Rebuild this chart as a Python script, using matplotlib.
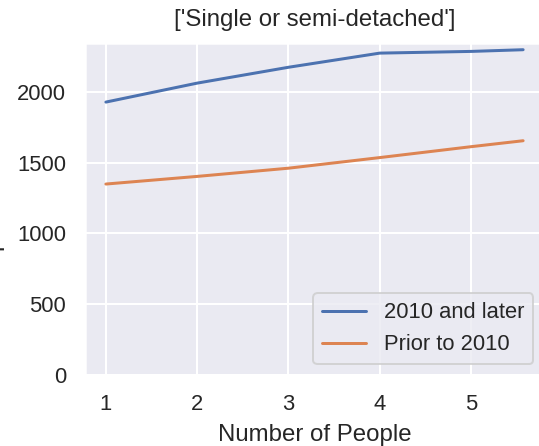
import matplotlib
matplotlib.use("Agg")
import matplotlib.pyplot as plt
import seaborn as sns

sns.set_theme(style="darkgrid")
plt.rcParams['font.family'] = ['Liberation Sans', 'DejaVu Sans']

people = [1, 2, 3, 4, 5, 5.57]
new_homes = [1928, 2062, 2174, 2274, 2286, 2298]
old_homes = [1349, 1403, 1461, 1536, 1613, 1655]
title = "['Single or semi-detached']"

dpi = 144
fig = plt.figure(figsize=(539 / dpi, 446 / dpi), dpi=dpi)
W, H = 539, 446
ax = fig.add_axes([85 / W, (H - 375) / H, (544 - 85) / W, (375 - 43) / H])

ax.plot(people, new_homes, color="#4c72b0", label="2010 and later", lw=1.5)
ax.plot(people, old_homes, color="#dd8452", label="Prior to 2010", lw=1.5)
ax.set_ylim(bottom=0)
ax.set_xticks([1, 2, 3, 4, 5])
ax.set_yticks([0, 500, 1000, 1500, 2000])
ax.set_xlabel("Number of People", fontsize=12, labelpad=4.5)
ax.set_ylabel("Square Feet", fontsize=12, labelpad=6)
ax.set_title(title, fontsize=12, pad=8.5)
ax.tick_params(labelsize=11)
ax.legend(loc="lower right", fontsize=11)

fig.savefig("out.png", dpi=dpi)
